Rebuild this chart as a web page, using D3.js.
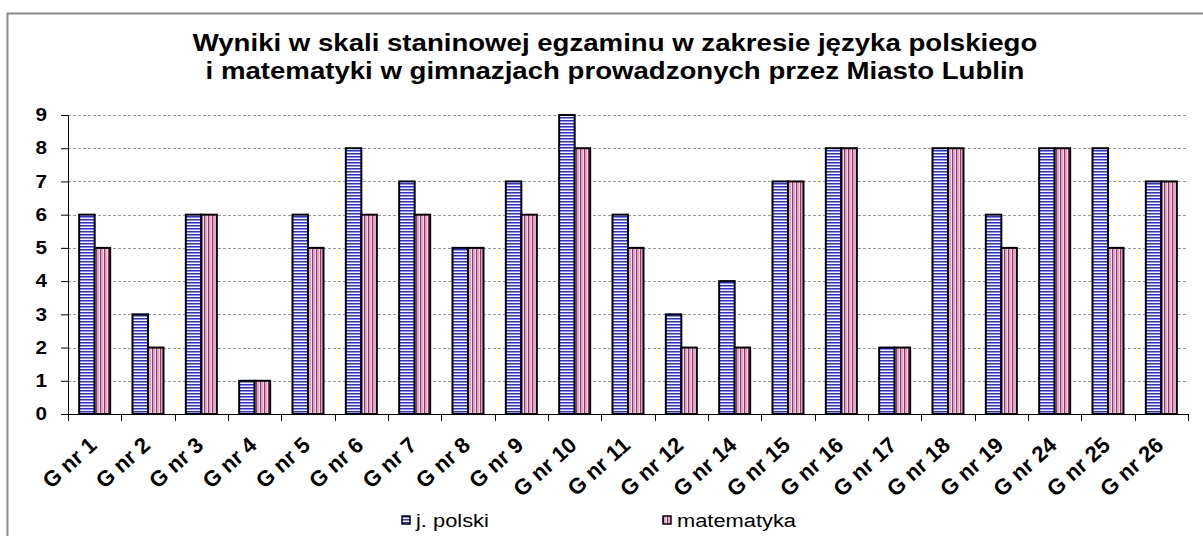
<!DOCTYPE html>
<html>
<head>
<meta charset="utf-8">
<script src="https://cdnjs.cloudflare.com/ajax/libs/d3/7.8.5/d3.min.js"></script>
<style>
  body { margin: 0; background: #fff; }
  text { font-family: Arial, "Liberation Sans", sans-serif; }
</style>
</head>
<body>
<div id="chart"></div>
<script>
// data
var categories = ["G nr 1", "G nr 2", "G nr 3", "G nr 4", "G nr 5", "G nr 6", "G nr 7",
    "G nr 8", "G nr 9", "G nr 10", "G nr 11", "G nr 12", "G nr 14", "G nr 15",
    "G nr 16", "G nr 17", "G nr 18", "G nr 19", "G nr 24", "G nr 25", "G nr 26"];
var polski = [6, 3, 6, 1, 6, 8, 7, 5, 7, 9, 6, 3, 4, 7, 8, 2, 8, 6, 8, 8, 7];
var matematyka = [5, 2, 6, 1, 5, 6, 6, 5, 6, 8, 5, 2, 2, 7, 8, 2, 8, 5, 8, 5, 7];
var seriesNames = ["j. polski", "matematyka"];
var yTicks = [0, 1, 2, 3, 4, 5, 6, 7, 8, 9];
var titleLines = ["Wyniki w skali staninowej egzaminu w zakresie języka polskiego",
    "i matematyki  w gimnazjach prowadzonych przez Miasto Lublin"];

var width = 1203,
    height = 536,
    plotLeft = 68, plotRight = 1188,
    plotTop = 115, plotBottom = 414,
    stretch = 1.15; //text in the original is a bit wide

var svg = d3.select("#chart").append("svg")
    .attr("width", width)
    .attr("height", height);

//Patterns for the two series
var defs = svg.append("defs");
var pBlue = defs.append("pattern").attr("id", "pBlue")
    .attr("patternUnits", "userSpaceOnUse").attr("width", 4).attr("height", 3);
pBlue.append("rect").attr("width", 4).attr("height", 3).attr("fill", "#ffffff");
pBlue.append("rect").attr("y", 0).attr("width", 4).attr("height", 1).attr("fill", "#2a2aff");
pBlue.append("rect").attr("y", 1).attr("width", 4).attr("height", 1).attr("fill", "#8c8cff");

var pPink = defs.append("pattern").attr("id", "pPink")
    .attr("patternUnits", "userSpaceOnUse").attr("width", 4).attr("height", 4);
pPink.append("rect").attr("width", 4).attr("height", 4).attr("fill", "#f3dbe8");
pPink.append("rect").attr("x", 0).attr("width", 1).attr("height", 4).attr("fill", "#9c2f66");
pPink.append("rect").attr("x", 1).attr("width", 2).attr("height", 4).attr("fill", "#dca6c4");

var fills = ["url(#pBlue)", "url(#pPink)"];

//Outer frame
svg.append("rect")
    .attr("x", 7.5).attr("y", 13.5)
    .attr("width", 1250).attr("height", 600)
    .attr("fill", "none").attr("stroke", "#8a8a8a").attr("stroke-width", 2);

//Title
svg.append("g").selectAll("text")
    .data(titleLines)
    .enter().append("text")
    .attr("transform", function (d, i) {
        return "translate(615," + (51 + i * 28) + ") scale(" + stretch + ",1)";
    })
    .attr("text-anchor", "middle")
    .attr("font-size", "24px")
    .attr("font-weight", "bold")
    .text(function (d) { return d; });

//Scales
var xScale = d3.scaleBand().domain(categories).range([plotLeft, plotRight]);
var yScale = d3.scaleLinear().domain([0, 9]).range([plotBottom, plotTop]);
var inner = d3.scaleBand().domain(seriesNames).range([0, 31]);

//Grid
svg.append("g").selectAll("line")
    .data(yTicks.slice(1))
    .enter().append("line")
    .attr("x1", plotLeft).attr("x2", plotRight)
    .attr("y1", function (d) { return Math.round(yScale(d)) + 0.5; })
    .attr("y2", function (d) { return Math.round(yScale(d)) + 0.5; })
    .attr("stroke", "#999").attr("stroke-dasharray", "3,2").attr("stroke-width", 1);

//Y axis
var yAxis = svg.append("g")
    .attr("transform", "translate(" + plotLeft + ",0)")
    .call(d3.axisLeft(yScale).tickValues(yTicks).tickSize(7).tickPadding(0).tickFormat(d3.format("d")));
yAxis.selectAll("text")
    .attr("x", null)
    .attr("transform", "translate(-21,0) scale(" + stretch + ",1)")
    .attr("font-size", "18px").attr("font-weight", "bold").attr("fill", "#000");
yAxis.selectAll("line").attr("stroke", "#000");
yAxis.select(".domain").attr("stroke", "#000");

//X axis with ticks between categories
var bounds = categories.map(function (c) { return xScale(c); }).concat([plotRight]);
var xAxis = svg.append("g");
xAxis.append("line").attr("x1", plotLeft).attr("x2", plotRight)
    .attr("y1", plotBottom + 0.5).attr("y2", plotBottom + 0.5).attr("stroke", "#000");
xAxis.selectAll("line.tick")
    .data(bounds)
    .enter().append("line").attr("class", "tick")
    .attr("x1", function (d) { return Math.round(d) + 0.5; })
    .attr("x2", function (d) { return Math.round(d) + 0.5; })
    .attr("y1", plotBottom).attr("y2", plotBottom + 7)
    .attr("stroke", "#000");
xAxis.selectAll("text")
    .data(categories)
    .enter().append("text")
    .attr("transform", function (d) {
        var x = xScale(d) + xScale.bandwidth() / 2 + 3.5;
        return "translate(" + x + "," + (plotBottom + 33) + ") rotate(-42)";
    })
    .attr("text-anchor", "end")
    .attr("font-size", "22px")
    .attr("font-weight", "bold")
    .text(function (d) { return d; });

//Bars
var groupOffset = (xScale.bandwidth() - 31) / 2;
var series = [polski, matematyka];
series.forEach(function (vals, si) {
    svg.append("g").selectAll("rect")
        .data(vals)
        .enter().append("rect")
        .attr("x", function (d, i) { return xScale(categories[i]) + groupOffset + inner(seriesNames[si]); })
        .attr("y", function (d) { return yScale(d); })
        .attr("width", inner.bandwidth())
        .attr("height", function (d) { return plotBottom - yScale(d); })
        .attr("fill", fills[si])
        .attr("stroke", "#000")
        .attr("stroke-width", 2);
});

//Legend
var legendX = [402, 663];
var legend = svg.append("g").selectAll("g")
    .data(seriesNames)
    .enter().append("g")
    .attr("transform", function (d, i) { return "translate(" + legendX[i] + ",516)"; });
legend.append("rect")
    .attr("width", 8).attr("height", 8)
    .attr("fill", function (d, i) { return fills[i]; })
    .attr("stroke", "#000").attr("stroke-width", 1.5);
legend.append("text")
    .attr("transform", "translate(14,11) scale(" + stretch + ",1)")
    .attr("font-size", "19px")
    .text(function (d) { return d; });
</script>
</body>
</html>
